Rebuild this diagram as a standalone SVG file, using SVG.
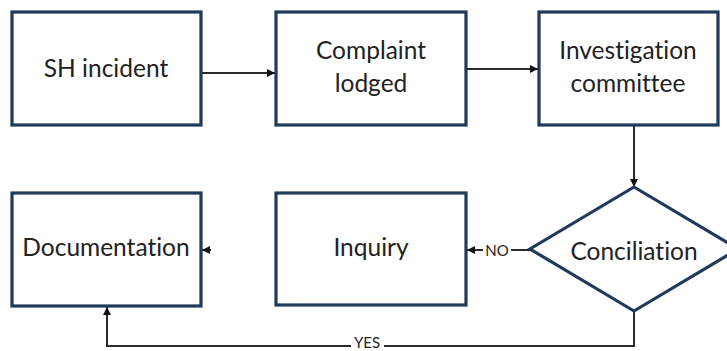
<svg xmlns="http://www.w3.org/2000/svg" width="727" height="351" viewBox="0 0 727 351">
<style>
.box{fill:#fff;stroke:#1f3a5a;stroke-width:3.2}
.lbl{font-family:Lato,"Open Sans",sans-serif;font-size:24.5px;fill:#222;text-anchor:middle;font-variant-ligatures:none}
.sm{font-family:Lato,"Open Sans",sans-serif;font-size:15px;fill:#222;text-anchor:middle}
.con{fill:none;stroke:#2a2a2a;stroke-width:2}
</style>
<defs>
<marker id="ah" viewBox="0 0 10 10" refX="10" refY="5" markerWidth="8" markerHeight="8" orient="auto" markerUnits="userSpaceOnUse">
<path d="M0,0 L10,5 L0,10 z" fill="#111"/>
</marker>
</defs>
<rect width="727" height="351" fill="#fff"/>
<g id="connectors">
<line class="con" x1="202" y1="73" x2="275" y2="73" marker-end="url(#ah)"/>
<line class="con" x1="467" y1="69" x2="538" y2="69" marker-end="url(#ah)"/>
<line class="con" x1="634" y1="125" x2="634" y2="187" marker-end="url(#ah)"/>
<line class="con" x1="530" y1="250" x2="511" y2="250"/>
<line class="con" x1="483" y1="250" x2="467" y2="250" marker-end="url(#ah)"/>
<text class="sm" x="497" y="255.5">NO</text>
<path d="M211,250 L202,250" class="con" marker-end="url(#ah)"/>
<polyline class="con" points="634,312 634,346 384,346"/>
<polyline class="con" points="351,346 107,346 107,307" marker-end="url(#ah)"/>
<text class="sm" x="367" y="347.5">YES</text>
</g>
<g id="n1"><rect class="box" x="12" y="12" width="189" height="113"/><text class="lbl" x="106" y="77">SH incident</text></g>
<g id="n2"><rect class="box" x="276" y="12" width="190" height="113"/><text class="lbl" x="371" y="59">Complaint</text><text class="lbl" x="371" y="92">lodged</text></g>
<g id="n3"><rect class="box" x="539" y="12" width="179" height="113"/><text class="lbl" x="628" y="59">Investigation</text><text class="lbl" x="628" y="92">committee</text></g>
<g id="n4"><rect class="box" x="12" y="193" width="189" height="113"/><text class="lbl" x="106" y="256">Documentation</text></g>
<g id="n5"><rect class="box" x="276" y="193" width="190" height="112"/><text class="lbl" x="371" y="256">Inquiry</text></g>
<g id="n6"><polygon class="box" points="634,187 738,249 634,311 530,249"/><text class="lbl" x="634" y="260">Conciliation</text></g>
</svg>
